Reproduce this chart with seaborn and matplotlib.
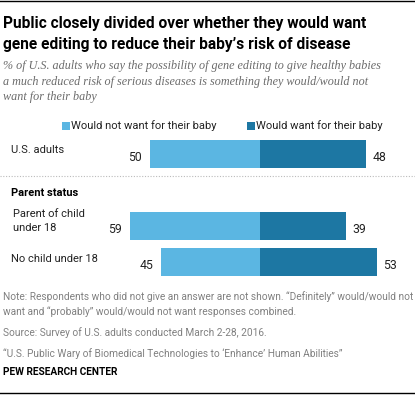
import matplotlib
matplotlib.use("Agg")
import matplotlib.pyplot as plt
from matplotlib.lines import Line2D
from matplotlib.patches import Rectangle
import seaborn as sns
import pandas as pd

# ---- data ----
groups = ["U.S. adults", "Parent status", "Parent of child\nunder 18", "No child under 18"]
not_want = [50, None, 59, 45]
want = [48, None, 39, 53]
series = ["Would not want for their baby", "Would want for their baby"]
colors = ["#5BB6E2", "#1D77A3"]

title_lines = ["Public closely divided over whether they would want",
               "gene editing to reduce their baby\u2019s risk of disease"]
subtitle_lines = ["% of U.S. adults who say the possibility of gene editing to give healthy babies",
                  "a much reduced risk of serious diseases is something they would/would not",
                  "want for their baby"]
note_lines = ["Note: Respondents who did not give an answer are not shown. \u201cDefinitely\u201d would/would not",
              "want and \u201cprobably\u201d would/would not want responses combined."]
source = "Source: Survey of U.S. adults conducted March 2-28, 2016."
report = "\u201cU.S. Public Wary of Biomedical Technologies to \u2018Enhance\u2019 Human Abilities\u201d"
org = "PEW RESEARCH CENTER"

W, H = 415, 395
fig = plt.figure(figsize=(W / 100, H / 100), dpi=100)
fig.patch.set_facecolor("white")
ax = fig.add_axes([0, 0, 1, 1])

rows = []
for g, n, w in zip(groups, not_want, want):
    if n is None:
        continue
    rows.append(dict(group=g, response=series[0], value=-n))
    rows.append(dict(group=g, response=series[1], value=w))
df = pd.DataFrame(rows)

sns.barplot(data=df, y="group", x="value", hue="response", order=groups,
            hue_order=series, palette=colors, dodge=False, width=0.78,
            orient="h", ax=ax, legend=False, saturation=1, errorbar=None)

# map data to pixels: x_px = 260 + 2.2*v ; y_px = 154 + 36*k
XC, XS = 260, 2.2
YC, YS = 154, 36
ax.set_xlim(-XC / XS, (W - XC) / XS)
ax.set_ylim((H - YC) / YS, -YC / YS)
ax.axis("off")

SANS = "Roboto"
lab_kw = dict(fontsize=8.0, family=SANS, color="#222222")
val_kw = dict(fontsize=8.8, family=SANS, color="#222222")

# value labels
for k, (n, w) in enumerate(zip(not_want, want)):
    if n is None:
        continue
    ax.text(-n - 8 / XS, k + 0.1, str(n), ha="right", va="center", **val_kw)
    ax.text(w + 7 / XS, k + 0.1, str(w), ha="left", va="center", **val_kw)


def T(x, y, s, **kw):
    fig.text(x / W, 1 - y / H, s, va="baseline", **kw)


# title
T(3, 28, title_lines[0], fontsize=11.2, family=SANS, weight="bold", color="black")
T(3, 48.5, title_lines[1], fontsize=11.2, family=SANS, weight="bold", color="black")
# subtitle
for i, s in enumerate(subtitle_lines):
    T(3, 69 + 15.5 * i, s, fontsize=8.75, family="Liberation Serif", style="italic", color="#6b6b6b")

# legend
for x0, s, c in [(62, series[0], colors[0]), (247, series[1], colors[1])]:
    fig.add_artist(Rectangle((x0 / W, 1 - 130 / H), 8 / W, 8 / H, transform=fig.transFigure,
                             color=c, lw=0))
    T(x0 + 9, 129, s, **lab_kw)

# row labels
T(11, 153, "U.S. adults", **lab_kw)
T(11, 196, "Parent status", fontsize=8.0, family=SANS, weight="bold", color="black")
T(13, 217, "Parent of child", **lab_kw)
T(13, 231, "under 18", **lab_kw)
T(11, 262, "No child under 18", **lab_kw)

# lines
fig.add_artist(Line2D([0, 1], [1 - 1 / H] * 2, color="black", lw=1.0, transform=fig.transFigure))
fig.add_artist(Line2D([0, 1], [1 - 176 / H] * 2, color="#bbbbbb", lw=0.8,
                      linestyle=(0, (1, 1.5)), transform=fig.transFigure))
fig.add_artist(Line2D([0, 1], [1 - 392.5 / H] * 2, color="black", lw=1.0, transform=fig.transFigure))

# notes
note_kw = dict(fontsize=7.3, family=SANS, color="#808080")
T(3, 300, note_lines[0], **note_kw)
T(3, 315, note_lines[1], **note_kw)
T(3, 336, source, **note_kw)
T(3, 357, report, **note_kw)
T(3, 375, org, fontsize=7.3, family=SANS, weight="bold", color="black")

fig.savefig("out.png", dpi=100, facecolor="white")
